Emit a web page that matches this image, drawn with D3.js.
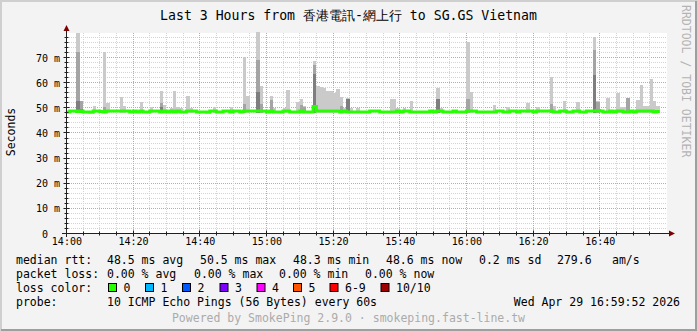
<!DOCTYPE html>
<html>
<head>
<meta charset="utf-8">
<script src="https://cdn.jsdelivr.net/npm/d3@7"></script>
<style>
  body { margin: 0; background: #f3f3f3; }
  svg { display: block; font-family: "DejaVu Sans Mono", monospace; }
  text { white-space: pre; }
</style>
</head>
<body>
<svg id="chart" width="697" height="331"></svg>
<script>
// SmokePing style latency graph, last 3 hours

const title = "Last 3 Hours from 香港電訊-網上行 to SG.GS Vietnam";
const startTime = new Date(2026, 3, 29, 14, 0, 0);
const endTime = new Date(2026, 3, 29, 17, 0, 0);

// median rtt per minute (ms), 14:00 .. 16:57
const median = [
  48.4, 48.8, 48.8, 48.6, 48.8, 48.4, 48.4, 48.3, 48.8, 48.8,
  48.6, 48.4, 48.8, 48.8, 48.8, 48.8, 48.8, 48.8, 48.8, 48.4,
  48.8, 48.4, 48.8, 48.4, 48.4, 48.8, 48.8, 48.8, 48.4, 48.8,
  48.4, 48.8, 48.4, 48.8, 48.4, 48.4, 48.8, 48.8, 48.8, 48.4,
  48.4, 48.4, 48.3, 48.8, 48.8, 48.4, 48.4, 48.8, 48.8, 48.4,
  48.8, 48.8, 48.4, 48.8, 48.8, 48.8, 48.8, 48.8, 48.8, 48.8,
  48.4, 48.8, 48.4, 48.4, 48.4, 48.8, 48.8, 48.4, 48.4, 48.4,
  48.8, 48.4, 48.4, 48.4, 50.5, 48.8, 48.8, 48.8, 48.8, 48.8,
  48.8, 48.8, 48.4, 48.8, 48.4, 48.4, 48.4, 48.4, 48.4, 48.4,
  48.4, 48.8, 48.8, 48.8, 48.4, 48.4, 48.4, 48.4, 48.4, 48.8,
  48.4, 48.8, 48.8, 48.4, 48.4, 48.4, 48.4, 48.4, 48.4, 48.8,
  48.4, 48.8, 48.8, 48.4, 48.4, 48.4, 48.8, 48.4, 48.4, 48.4,
  48.8, 48.8, 48.8, 48.4, 48.4, 48.4, 48.4, 48.4, 48.4, 48.8,
  48.8, 48.4, 48.4, 48.8, 48.8, 48.4, 48.8, 48.8, 48.8, 48.8,
  48.4, 48.8, 48.8, 48.8, 48.8, 48.8, 48.4, 48.4, 48.8, 48.8,
  48.4, 48.4, 48.8, 48.8, 48.4, 48.4, 48.8, 48.8, 48.8, 49.0,
  48.8, 48.4, 48.4, 48.8, 48.4, 48.8, 48.8, 48.4, 48.4, 48.8,
  48.4, 48.8, 48.8, 48.8, 48.8, 48.8, 48.4, 48.6
];

// smoke: [minute, highest ping, 2nd highest, 3rd highest] (ms)
const smoke = [
  [3, 79.7, 72.4, 52.6], [4, 52.7, 52.6, 49.5], [8, 50.7], [11, 72.4, 50.5],
  [12, 52.0], [16, 54.4], [17, 50.7], [22, 52.4], [25, 50.3],
  [28, 56.9, 51.8, 50.2], [29, 51.3], [31, 50.0], [32, 56.9], [33, 50.3],
  [34, 49.9], [36, 54.7], [37, 49.9], [44, 50.4], [49, 50.4],
  [53, 70.1, 51.6], [54, 54.7], [57, 80.0, 69.2, 56.4], [58, 58.7, 51.6],
  [61, 54.7, 53.3], [62, 50.0], [65, 50.0], [66, 57.2], [69, 52.4],
  [70, 53.7, 51.1], [71, 50.7, 50.5], [74, 68.7, 67.0, 63.6],
  [75, 58.7], [76, 58.3], [77, 57.9], [78, 56.7], [79, 56.8], [80, 56.0],
  [81, 57.7], [82, 54.2, 50.6], [83, 50.0], [84, 53.8, 53.7, 53.7],
  [85, 50.0], [87, 50.0], [97, 53.7], [98, 53.5], [99, 49.8], [101, 50.0],
  [103, 52.9], [111, 58.0, 53.7, 53.6], [112, 50.0], [120, 76.4, 53.7],
  [121, 56.4], [128, 51.0], [132, 50.2], [138, 52.0], [141, 50.3],
  [145, 62.3, 51.6], [146, 50.7], [149, 52.9], [153, 52.4],
  [158, 78.2, 72.9, 63.2], [159, 52.9, 52.5], [162, 54.0], [165, 56.0],
  [166, 50.3], [167, 50.3], [168, 54.0, 54.0], [171, 53.3], [172, 59.1],
  [173, 50.7], [174, 50.7], [175, 61.3], [176, 52.9], [177, 50.7]
];

const yTicks = [0, 10, 20, 30, 40, 50, 60, 70];
const xTickLabels = ["14:00", "14:20", "14:40", "15:00", "15:20", "15:40", "16:00", "16:20", "16:40"];
const rttStats = ["48.5 ms avg", "50.5 ms max", "48.3 ms min", "48.6 ms now", "0.2 ms sd", "279.6", "am/s"];
const lossStats = ["0.00 % avg", "0.00 % max", "0.00 % min", "0.00 % now"];
const lossLabels = ["0", "1", "2", "3", "4", "5", "6-9", "10/10"];
const lossColors = ["#26ff00", "#00b8ff", "#0059ff", "#7e00ff", "#ff00ff", "#ff5500", "#ff0000", "#a10000"];
const probeText = "10 ICMP Echo Pings (56 Bytes) every 60s";
const dateText = "Wed Apr 29 16:59:52 2026";
const poweredText = "Powered by SmokePing 2.9.0 \u00b7 smokeping.fast-line.tw";

/* ------------------------------------------------------------------
   Layout
------------------------------------------------------------------ */

const W = 697, H = 331;
const PLOT_L = 66.4, PLOT_R = 666.4, PLOT_T = 33.5, PLOT_B = 233.5;
const rttCols = [107, 200, 293, 386, 479, 557, 612];
const lossCols = [107, 194, 279, 365];
const swatchX = [108, 145, 182, 219.5, 256.5, 293, 329.5, 380.5];
const LEGEND_FONT = 11.5;

const svg = d3.select("#chart");
const crisp = v => Math.floor(v) + 0.5;
const parseHM = d3.timeParse("%Y-%m-%d %H:%M");

const x = d3.scaleTime().domain([startTime, endTime]).range([PLOT_L, PLOT_R]);
const y = d3.scaleLinear().domain([0, 79.6]).range([PLOT_B, PLOT_T]);
const tAt = i => d3.timeMinute.offset(startTime, i);

// background + shaded frame
svg.append("rect").attr("width", W).attr("height", H).attr("fill", "#f3f3f3");
svg.append("rect").attr("x", 66).attr("y", 33).attr("width", 601).attr("height", 200).attr("fill", "#fff");
svg.append("path").attr("d", `M1,${H} V1 H${W}`).attr("fill", "none").attr("stroke", "#cfcfcf").attr("stroke-width", 2);
svg.append("path").attr("d", `M1,${H - 1} H${W - 1} V1`).attr("fill", "none").attr("stroke", "#9e9e9e").attr("stroke-width", 2);

/* ------------------------------------------------------------------
   Grid
------------------------------------------------------------------ */

const grid = svg.append("g").attr("stroke-dasharray", "1,1").attr("stroke-width", 1);

d3.range(2, 80, 2).forEach(v => {
    const major = v % 10 === 0;
    grid.append("line")
        .attr("x1", 67).attr("x2", 667)
        .attr("y1", crisp(y(v))).attr("y2", crisp(y(v)))
        .attr("stroke", major ? "#e29a9a" : "#d4d4d4");
});

x.ticks(d3.timeMinute.every(5)).forEach(t => {
    if (+t === +startTime || +t === +endTime) return;
    const major = t.getMinutes() % 20 === 0;
    grid.append("line")
        .attr("x1", crisp(x(t))).attr("x2", crisp(x(t)))
        .attr("y1", 33).attr("y2", 233)
        .attr("stroke", major ? "#e29a9a" : "#d4d4d4");
});

/* ------------------------------------------------------------------
   Smoke
------------------------------------------------------------------ */

const shades = ["#cacaca", "#a4a4a4", "#7e7e7e"];
const smokeG = svg.append("g");
smoke.forEach(s => {
    const x0 = Math.round(x(tAt(s[0])));
    const x1 = Math.round(x(tAt(s[0] + 1)));
    const base = Math.round(y(48.1));
    for (let k = 1; k < s.length; k++) {
        const top = Math.round(y(s[k]));
        smokeG.append("rect")
            .attr("x", x0).attr("y", top)
            .attr("width", x1 - x0).attr("height", Math.max(0, base - top))
            .attr("fill", shades[k - 1]);
    }
});

/* ------------------------------------------------------------------
   Median line (colored by loss: 0)
------------------------------------------------------------------ */

const medPts = median.map((v, i) => ({ t: tAt(i), v }));
medPts.push({ t: tAt(median.length), v: median[median.length - 1] });

svg.append("path")
    .datum(medPts)
    .attr("fill", "none")
    .attr("stroke", lossColors[0])
    .attr("stroke-width", 3)
    .attr("d", d3.line().x(d => x(d.t)).y(d => y(d.v)).curve(d3.curveStepAfter));

/* ------------------------------------------------------------------
   Axes
------------------------------------------------------------------ */

const axisCol = "#202020";
const arrowCol = "#7f0000";

// ticks on axes
const ticks = svg.append("g").attr("stroke", axisCol).attr("stroke-width", 1);
d3.range(0, 80, 2).forEach(v => {
    const w = v % 10 === 0 ? 3 : 2;
    ticks.append("line").attr("x1", 66.5 - w).attr("x2", 66.5 + w)
        .attr("y1", crisp(y(v))).attr("y2", crisp(y(v)));
});
x.ticks(d3.timeMinute.every(5)).forEach(t => {
    if (+t === +endTime) return;
    const w = t.getMinutes() % 20 === 0 ? 3 : 2;
    ticks.append("line").attr("x1", crisp(x(t))).attr("x2", crisp(x(t)))
        .attr("y1", 233.5 - w).attr("y2", 233.5 + w);
});

svg.append("line").attr("x1", 62).attr("x2", 671).attr("y1", 233.5).attr("y2", 233.5)
    .attr("stroke", axisCol);
svg.append("line").attr("x1", 66.5).attr("x2", 66.5).attr("y1", 237).attr("y2", 29)
    .attr("stroke", axisCol);
svg.append("path").attr("d", "M63.5,31 L69.5,31 L66.5,25 Z").attr("fill", arrowCol);
svg.append("path").attr("d", "M669,230.5 L669,236.5 L675,233.5 Z").attr("fill", arrowCol);

const yAxis = svg.append("g")
    .attr("transform", "translate(66.5,0)")
    .call(d3.axisLeft(y).tickValues(yTicks).tickSize(0).tickPadding(6.5)
        .tickFormat(v => v === 0 ? "0" : v + " m"));
yAxis.select(".domain").remove();
yAxis.selectAll("text").attr("font-family", "DejaVu Sans Mono").attr("font-size", 10)
    .attr("fill", "#000").attr("dy", "0.36em")
    .attr("dx", d => d === 0 ? -12 : 0);

const xTickTimes = xTickLabels.map(s => parseHM("2026-04-29 " + s));
const xAxis = svg.append("g")
    .attr("transform", "translate(0,233.5)")
    .call(d3.axisBottom(x).tickValues(xTickTimes).tickSize(0).tickPadding(4.5)
        .tickFormat((d, i) => xTickLabels[i]));
xAxis.select(".domain").remove();
xAxis.selectAll("text").attr("font-family", "DejaVu Sans Mono").attr("font-size", 10).attr("fill", "#000");

// y label
svg.append("text")
    .attr("transform", "translate(14.8,132) rotate(-90)")
    .attr("text-anchor", "middle")
    .attr("font-size", LEGEND_FONT)
    .text("Seconds");

// title
svg.append("text")
    .attr("x", 348.5).attr("y", 19.5)
    .attr("text-anchor", "middle")
    .attr("font-size", 13.2)
    .text(title);

// side watermark
svg.append("text")
    .attr("transform", "translate(682,5) rotate(90)")
    .attr("font-size", LEGEND_FONT)
    .attr("fill", "#b4b4b4")
    .text("RRDTOOL / TOBI OETIKER");

/* ------------------------------------------------------------------
   Legend
------------------------------------------------------------------ */

const legend = svg.append("g").attr("font-size", LEGEND_FONT).attr("fill", "#000");
const rows = [263.5, 277.5, 291.5, 305.5];

legend.append("text").attr("x", 16).attr("y", rows[0]).text("median rtt:");
rttStats.forEach((s, i) => legend.append("text").attr("x", rttCols[i]).attr("y", rows[0]).text(s));

legend.append("text").attr("x", 16).attr("y", rows[1]).text("packet loss:");
lossStats.forEach((s, i) => legend.append("text").attr("x", lossCols[i]).attr("y", rows[1]).text(s));

legend.append("text").attr("x", 16).attr("y", rows[2]).text("loss color:");
lossLabels.forEach((s, i) => {
    legend.append("rect")
        .attr("x", swatchX[i] + 0.5).attr("y", 283.5)
        .attr("width", 8).attr("height", 8)
        .attr("fill", lossColors[i]).attr("stroke", "#000");
    legend.append("text").attr("x", swatchX[i] + 15.5).attr("y", rows[2]).text(s);
});

legend.append("text").attr("x", 16).attr("y", rows[3]).text("probe:");
legend.append("text").attr("x", 107).attr("y", rows[3]).text(probeText);
legend.append("text").attr("x", 680).attr("y", rows[3]).attr("text-anchor", "end").text(dateText);

svg.append("text")
    .attr("x", 348.5).attr("y", 321.8)
    .attr("text-anchor", "middle")
    .attr("font-size", LEGEND_FONT)
    .attr("fill", "#ababab")
    .text(poweredText);
</script>
</body>
</html>
